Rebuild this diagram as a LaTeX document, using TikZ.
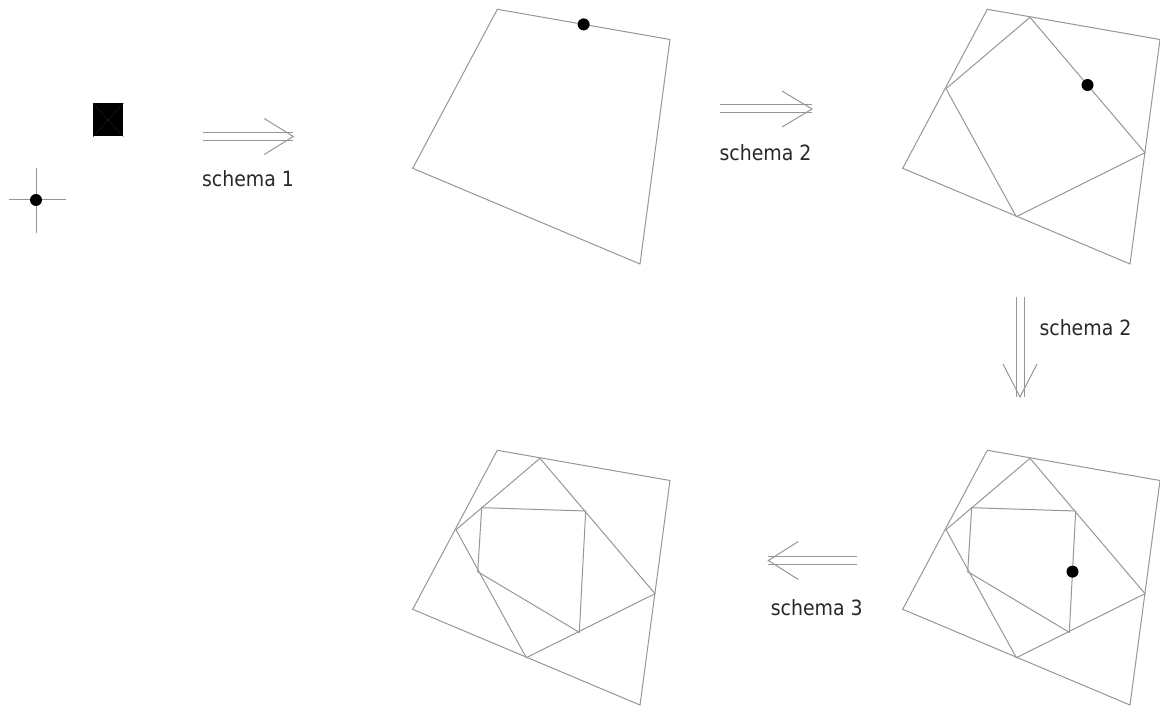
\documentclass[tikz,border=0pt]{standalone}
\usepackage{fontspec}
\setmainfont{DejaVu Sans Condensed}
\usetikzlibrary{calc}
\definecolor{lncol}{RGB}{150,150,150}
\definecolor{txtcol}{RGB}{40,40,40}
\begin{document}
\begin{tikzpicture}[x=1pt,y=-1pt,
  ln/.style={draw=lncol, line width=1pt, line join=miter},
  dbl/.style={draw=lncol, line width=1pt, double=white, double distance=7pt},
  dotm/.style={circle, fill=black, inner sep=0pt, minimum size=12pt},
  lbl/.style={font=\fontsize{21}{24}\selectfont, text=txtcol, inner sep=0pt},
  outerq/.pic={
    \coordinate (-A) at (497.3,9.3);
    \coordinate (-B) at (670,39.5);
    \coordinate (-C) at (640,264);
    \coordinate (-D) at (412.7,168.3);
    \draw[ln] (-A) -- (-B) -- (-C) -- (-D) -- cycle;
  },
  middleq/.pic={
    \coordinate (-T) at (540,17.3);
    \coordinate (-R) at (655,152.7);
    \coordinate (-Bo) at (526.3,216.7);
    \coordinate (-L) at (456,88.7);
    \draw[ln] (-T) -- (-R) -- (-Bo) -- (-L) -- cycle;
  },
  innerq/.pic={
    \coordinate (-TL) at (481.7,66.7);
    \coordinate (-TR) at (585.7,70);
    \coordinate (-BR) at (579.3,191.3);
    \coordinate (-BL) at (477.7,130.7);
    \draw[ln] (-TL) -- (-TR) -- (-BR) -- (-BL) -- cycle;
  }]
\useasboundingbox (0,0) rectangle (1160,708);

% left symbols
\node[fill=black, minimum width=30pt, minimum height=33pt, inner sep=0pt] (sq) at (108.3,120) {};
\draw[draw=black!88!white, line width=0.4pt] (sq.north west) -- (sq.south east) (sq.north east) -- (sq.south west);
\coordinate (chl) at (9.3,200);
\coordinate (chr) at (66,200);
\coordinate (cht) at (36,168.3);
\coordinate (chb) at (36,232.7);
\draw[ln] (chl) -- (chr) (cht) -- (chb);
\node[dotm] (cdot) at (36,200) {};

% panels
\pic (p1) at (0,0) {outerq};
\pic (p2) at (490,0) {outerq};
\pic (p2m) at (490,0) {middleq};
\pic (p3) at (0,441) {outerq};
\pic (p3m) at (0,441) {middleq};
\pic (p3i) at (0,441) {innerq};
\pic (p4) at (490,441) {outerq};
\pic (p4m) at (490,441) {middleq};
\pic (p4i) at (490,441) {innerq};

% dots
\node[dotm] (d1) at ($(p1-A)!0.5!(p1-B)$) {};
\node[dotm] (d2) at ($(p2m-T)!0.5!(p2m-R)$) {};
\node[dotm] (d4) at ($(p4i-TR)!0.5!(p4i-BR)$) {};

% arrow 1
\coordinate (a1s) at (203.3,136.5);
\coordinate (a1e) at (293.3,136.5);
\draw[dbl] (a1s) -- (a1e);
\draw[ln] ($(a1e)+(-29,-18)$) -- (a1e) -- ($(a1e)+(-29,18)$);
\node[lbl, anchor=base] (l1) at (248,187) {schema 1};

% arrow 2
\coordinate (a2s) at (720,109);
\coordinate (a2e) at (812,109);
\draw[dbl] (a2s) -- (a2e);
\draw[ln] ($(a2e)+(-30,-18)$) -- (a2e) -- ($(a2e)+(-30,18)$);
\node[lbl, anchor=base] (l2) at (765.5,161) {schema 2};

% arrow 3 (down)
\coordinate (a3s) at (1020,297);
\coordinate (a3e) at (1020,397);
\draw[dbl] (a3s) -- (a3e);
\draw[ln] ($(a3e)+(-17,-33)$) -- (a3e) -- ($(a3e)+(17,-33)$);
\node[lbl, anchor=base west] (l3) at (1039.3,336) {schema 2};

% arrow 4 (left)
\coordinate (a4s) at (857.3,560.5);
\coordinate (a4e) at (768.3,560.5);
\draw[dbl] (a4s) -- (a4e);
\draw[ln] ($(a4e)+(30,-19)$) -- (a4e) -- ($(a4e)+(30,19)$);
\node[lbl, anchor=base] (l4) at (816.7,615) {schema 3};
\end{tikzpicture}
\end{document}
